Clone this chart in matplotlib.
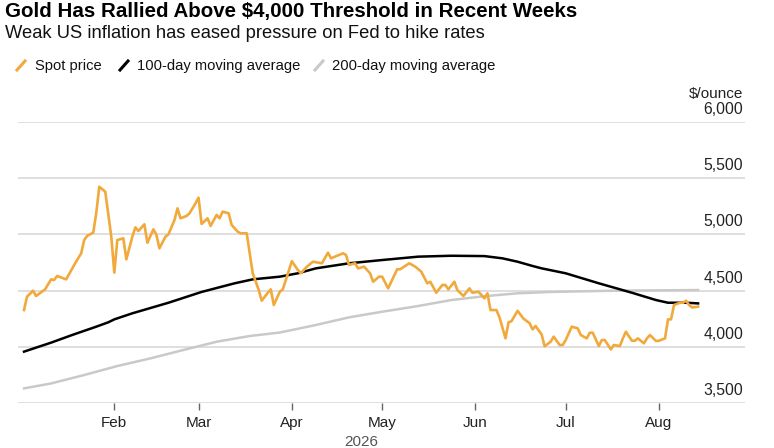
import matplotlib
matplotlib.use("Agg")
import matplotlib.pyplot as plt
import matplotlib.dates as mdates
import matplotlib.transforms as mtransforms
from matplotlib.lines import Line2D
import pandas as pd

plt.rcParams["font.family"] = ["Liberation Sans", "DejaVu Sans"]

# --- data ---
spot_dates = [
    "01-02", "01-03", "01-05", "01-06", "01-09", "01-11", "01-12", "01-13",
    "01-16", "01-19", "01-21", "01-22", "01-23", "01-25", "01-26", "01-27",
    "01-29", "01-31", "02-01", "02-02", "02-04", "02-05", "02-07", "02-08",
    "02-09", "02-11", "02-12", "02-14", "02-15", "02-16", "02-18", "02-19",
    "02-21", "02-22", "02-23", "02-25", "02-26", "02-28", "03-01", "03-02",
    "03-04", "03-05", "03-07", "03-08", "03-09", "03-11", "03-12", "03-14",
    "03-15", "03-17", "03-19", "03-21", "03-22", "03-24", "03-25", "03-26",
    "03-28", "03-29", "04-01", "04-03", "04-04", "04-06", "04-08", "04-11",
    "04-13", "04-14", "04-18", "04-19", "04-20", "04-22", "04-23", "04-25",
    "04-27", "04-28", "04-30", "05-01", "05-03", "05-06", "05-07", "05-10",
    "05-12", "05-14", "05-16", "05-17", "05-19", "05-21", "05-22", "05-23",
    "05-25", "05-26", "05-28", "05-30", "05-31", "06-02", "06-04", "06-05",
    "06-06", "06-08", "06-09", "06-11", "06-12", "06-13", "06-15", "06-17",
    "06-19", "06-20", "06-21", "06-23", "06-24", "06-26", "06-27", "06-29",
    "06-30", "07-01", "07-03", "07-05", "07-06", "07-08", "07-09", "07-10",
    "07-12", "07-13", "07-14", "07-16", "07-17", "07-19", "07-20", "07-21",
    "07-23", "07-24", "07-25", "07-27", "07-28", "07-29", "07-31", "08-01",
    "08-03", "08-04", "08-05", "08-06", "08-08", "08-09", "08-10", "08-11",
    "08-12", "08-14",
]
spot_price = [
    4327, 4446, 4499, 4452, 4511, 4600, 4594, 4630,
    4600, 4743, 4832, 4950, 4988, 5015, 5188, 5424,
    5380, 4980, 4660, 4950, 4965, 4778, 4980, 5063,
    5030, 5090, 4926, 5045, 4995, 4876, 4980, 5001,
    5128, 5232, 5143, 5164, 5188, 5277, 5327, 5093,
    5143, 5075, 5173, 5143, 5202, 5188, 5084, 5024,
    5010, 5010, 4654, 4505, 4410, 4481, 4511, 4372,
    4490, 4511, 4762, 4683, 4654, 4713, 4757, 4743,
    4837, 4787, 4832, 4817, 4728, 4743, 4698, 4713,
    4654, 4579, 4624, 4624, 4520, 4690, 4690, 4743,
    4713, 4669, 4565, 4579, 4481, 4550, 4550, 4511,
    4579, 4505, 4452, 4520, 4481, 4490, 4431, 4476,
    4327, 4327, 4262, 4075, 4218, 4228, 4320, 4250,
    4210, 4155, 4185, 4110, 4005, 4045, 4090, 4016,
    4016, 4060, 4179, 4164, 4105, 4075, 4125, 4125,
    4007, 4060, 4060, 3977, 4016, 4007, 4075, 4134,
    4054, 4054, 4075, 4031, 4075, 4105, 4052, 4054,
    4075, 4244, 4244, 4372, 4392, 4392, 4410, 4372,
    4350, 4357,
]

ma100_dates = [
    "01-02", "01-11", "01-18", "01-26", "01-30", "02-01", "02-07", "02-19",
    "03-02", "03-13", "03-19", "03-28", "04-03", "04-09", "04-20", "05-01",
    "05-13", "05-24", "06-04", "06-10", "06-15", "06-20", "06-23", "07-01",
    "07-12", "07-23", "07-31", "08-04", "08-10", "08-14",
]
ma100 = [
    3957, 4037, 4105, 4179, 4218, 4244, 4298, 4392,
    4488, 4565, 4600, 4624, 4654, 4698, 4743, 4772,
    4802, 4810, 4807, 4787, 4757, 4719, 4698, 4654,
    4565, 4481, 4416, 4392, 4392, 4386,
]

ma200_dates = [
    "01-02", "01-11", "01-22", "02-02", "02-13", "02-24", "03-07", "03-18",
    "03-28", "04-09", "04-20", "05-01", "05-13", "05-24", "06-04", "06-15",
    "06-26", "07-17", "08-14",
]
ma200 = [
    3630, 3674, 3749, 3829, 3897, 3972, 4045, 4096,
    4127, 4194, 4262, 4312, 4363, 4416, 4450, 4476,
    4488, 4499, 4505,
]

y_ticks = [3500, 4000, 4500, 5000, 5500, 6000]
year = 2026

SPOT_COLOR = "#F2A93B"
MA100_COLOR = "#000000"
MA200_COLOR = "#C9C9C9"
GRID_COLOR = "#D9D9D9"


def to_dates(md):
    return pd.to_datetime([f"{year}-{s}" for s in md])


fig = plt.figure(figsize=(7.74, 4.48), dpi=100)
ax = fig.add_axes([18 / 774, 45 / 448, 727 / 774, 281 / 448])

ax.plot(to_dates(ma200_dates), ma200, color=MA200_COLOR, lw=1.8, zorder=3)
ax.plot(to_dates(ma100_dates), ma100, color=MA100_COLOR, lw=1.8, zorder=4)
ax.plot(to_dates(spot_dates), spot_price, color=SPOT_COLOR, lw=1.9, zorder=5,
        solid_joinstyle="round")

ax.set_ylim(3500, 6000)
ax.set_xlim(pd.Timestamp("2025-12-31"), pd.Timestamp("2026-08-29 14:00"))

for spine in ax.spines.values():
    spine.set_visible(False)
ax.set_yticks(y_ticks)
ax.yaxis.set_tick_params(length=0, labelleft=False)
ax.grid(axis="y", color=GRID_COLOR, lw=1.2)
ax.set_axisbelow(True)

# y labels sit above the gridlines at the right edge
trans = mtransforms.blended_transform_factory(ax.transAxes, ax.transData)
offset = mtransforms.ScaledTranslation(-2 / 100, 5 / 100, fig.dpi_scale_trans)
for v in y_ticks:
    ax.text(1.0, v, f"{v:,}", transform=trans + offset, ha="right", va="bottom",
            fontsize=11.3, color="#222222")
ax.text(1.0, 6000, "$/ounce", transform=trans + mtransforms.ScaledTranslation(
    -2 / 100, 21 / 100, fig.dpi_scale_trans), ha="right", va="bottom",
    fontsize=11, color="#222222")

ax.xaxis.set_major_locator(mdates.MonthLocator(bymonth=range(2, 9)))
ax.xaxis.set_major_formatter(mdates.DateFormatter("%b"))
ax.tick_params(axis="x", length=5, width=1, color="#666666", pad=4,
               labelsize=11, labelcolor="#222222")
ax.text(0.472, -0.115, str(year), transform=ax.transAxes, ha="center", va="top",
        fontsize=11, color="#555555")

# titles
fig.text(5 / 774, 1 - 11 / 448, "Gold Has Rallied Above $4,000 Threshold in Recent Weeks",
         fontsize=14.8, fontweight="bold", va="center", ha="left", color="#000000")
fig.text(5 / 774, 1 - 33 / 448, "Weak US inflation has eased pressure on Fed to hike rates",
         fontsize=13.2, va="center", ha="left", color="#111111")

# legend built by hand (slash icons)
legend_items = [
    ("Spot price", SPOT_COLOR, 17, 35),
    ("100-day moving average", MA100_COLOR, 120, 137),
    ("200-day moving average", MA200_COLOR, 315, 332),
]
for label, color, ix, tx in legend_items:
    fig.add_artist(Line2D([ix / 774, (ix + 8) / 774],
                          [1 - 70 / 448, 1 - 61 / 448],
                          color=color, lw=2.2, transform=fig.transFigure))
    fig.text(tx / 774, 1 - 65.5 / 448, label, fontsize=10.6, va="center", ha="left",
             color="#111111")

fig.savefig("out.png", dpi=100)
